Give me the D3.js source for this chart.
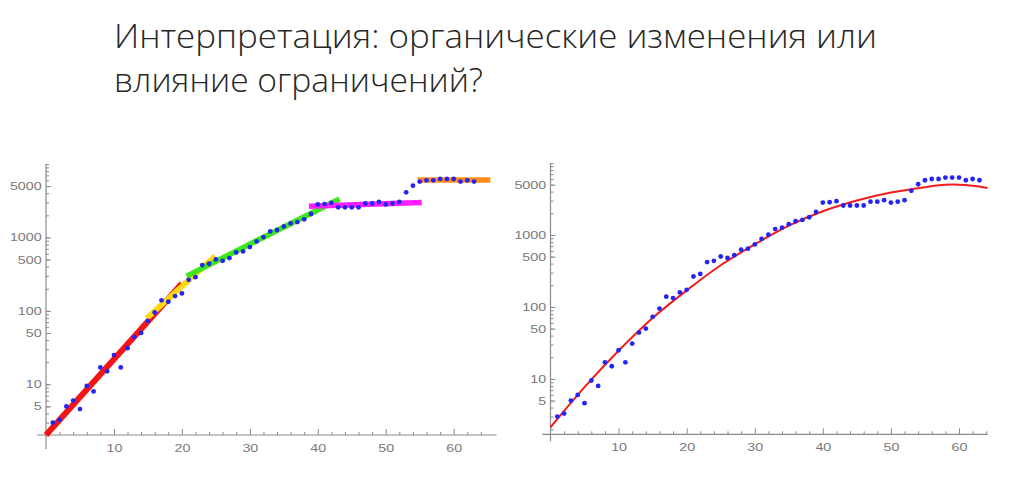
<!DOCTYPE html>
<html>
<head>
<meta charset="utf-8">
<script src="https://cdn.jsdelivr.net/npm/d3@7"></script>
<style>
  html, body { margin: 0; padding: 0; background: #fff; }
  svg { display: block; }
</style>
</head>
<body>
<svg id="chart" width="1024" height="494"></svg>
<script>
// ---------- data ----------
const titleLines = ["Интерпретация: органические изменения или", "влияние ограничений?"];

const days = d3.range(1, 64);
const cases = [3, 3.3, 5, 6, 4.6, 9.5, 8, 17, 15, 25,
               17, 31, 44, 50, 73, 95, 139, 133, 159, 173,
               265, 288, 420, 438, 502, 480, 523, 625, 645, 738,
               883, 1010, 1207, 1262, 1412, 1552, 1620, 1762, 2085, 2818,
               2850, 2950, 2567, 2567, 2567, 2567, 2900, 2900, 3040, 2818,
               2900, 3040, 4110, 5070, 5760, 5990, 5990, 6265, 6265, 6265,
               5760, 5990, 5760];

// piecewise fitted segments (left panel): start/end [day, value]
const segStartDay = [0, 14.8, 20.7, 38.7, 54.7];
const segStartVal = [2.04, 79, 297, 2650, 6070];
const segEndDay   = [20, 24.9, 43.2, 55.3, 65.4];
const segEndVal   = [236, 557, 3340, 3000, 6070];
const segColors   = ["#f41414", "#ffd90f", "#3fe61a", "#ff1fff", "#ff8c1a"];

// single fitted curve (right panel)
const fitDays = [0, 5, 10, 15, 20, 25, 30, 35, 40, 45, 50, 55, 58, 61, 64.2];
const fitVals = [2.13, 7.7, 24.6, 70, 170, 380, 740, 1350, 2140, 3020, 3890, 4620, 5000, 4950, 4510];

const xMajorTicks = [10, 20, 30, 40, 50, 60];
const xMinorTicks = d3.range(2, 66, 2).filter(d => d % 10 !== 0);
const yLabelTicks = [5, 10, 50, 100, 500, 1000, 5000];
const yMinorTicks = [];
[1, 10, 100, 1000].forEach(p => d3.range(1, 10).forEach(m => yMinorTicks.push(m * p)));
yMinorTicks.push(10000);

// ---------- drawing ----------
const svg = d3.select("#chart");

// title
const title = svg.append("g");
titleLines.forEach((t, i) => {
  title.append("text")
    .attr("x", 114).attr("y", i === 0 ? 48 : 92)
    .attr("font-family", "'Open Sans', 'Noto Sans', sans-serif")
    .attr("font-weight", 300)
    .attr("font-size", 33)
    .attr("fill", "#262626")
    .attr("textLength", i === 0 ? 763 : 369)
    .attr("lengthAdjust", "spacingAndGlyphs")
    .text(t);
});

function panel(cfg) {
  const x = d3.scaleLinear().domain(cfg.xDomain).range(cfg.xRange);
  const y = d3.scaleLog().domain(cfg.yDomain).range(cfg.yRange);
  const g = svg.append("g");
  const axisColor = "#8a8a8a";
  const x0 = x(0), yb = cfg.yRange[0];

  // axis lines
  g.append("line").attr("x1", x(cfg.xAxisStart)).attr("x2", cfg.xRange[1])
    .attr("y1", yb).attr("y2", yb).attr("stroke", axisColor).attr("stroke-width", 1.2);
  g.append("line").attr("x1", x0).attr("x2", x0)
    .attr("y1", cfg.yRange[1]).attr("y2", yb + cfg.yOver).attr("stroke", axisColor).attr("stroke-width", 1.2);

  // x axis ticks
  const xMinor = d3.axisBottom(x).tickValues(xMinorTicks.filter(d => d <= cfg.xDomain[1]))
    .tickSizeInner(-3).tickSizeOuter(0).tickFormat("");
  const xMajor = d3.axisBottom(x).tickValues(xMajorTicks).tickSizeInner(-6)
    .tickSizeOuter(0).tickPadding(9).tickFormat(d3.format("d"));
  [xMinor, xMajor].forEach(ax => {
    const a = g.append("g").attr("transform", `translate(0,${yb})`).call(ax);
    a.select(".domain").remove();
    a.selectAll("line").attr("stroke", axisColor);
  });

  // y axis ticks
  const yMin = d3.axisLeft(y).tickValues(yMinorTicks.filter(d => d >= cfg.yDomain[0] && d <= cfg.yDomain[1]))
    .tickSizeInner(-3).tickSizeOuter(0).tickFormat("");
  const yMaj = d3.axisLeft(y).tickValues(yLabelTicks).tickSizeInner(-5)
    .tickSizeOuter(0).tickPadding(3.3).tickFormat(d3.format("d"));
  [yMin, yMaj].forEach(ax => {
    const a = g.append("g").attr("transform", `translate(${x0},0)`).call(ax);
    a.select(".domain").remove();
    a.selectAll("line").attr("stroke", axisColor);
  });

  g.selectAll(".tick text")
    .attr("font-family", "'Liberation Sans', Arial, sans-serif")
    .attr("font-size", 11)
    .attr("fill", "#7a7a7a")
    .attr("transform", "scale(1.3,1)");

  return { g, x, y };
}

// left panel
const L = panel({
  xDomain: [0, 66.3], xRange: [46, 496.5], xAxisStart: -1.3,
  yDomain: [2.04, 10000], yRange: [435, 164], yOver: 14
});
segStartDay.forEach((d, i) => {
  L.g.append("line")
    .attr("x1", L.x(d)).attr("y1", L.y(segStartVal[i]))
    .attr("x2", L.x(segEndDay[i])).attr("y2", L.y(segEndVal[i]))
    .attr("stroke", segColors[i]).attr("stroke-width", i === 0 ? 6 : 5.5)
    .attr("stroke-linecap", "butt");
});
L.g.selectAll("circle.pt").data(days).enter().append("circle")
  .attr("cx", d => L.x(d)).attr("cy", (d, i) => L.y(cases[i]))
  .attr("r", 2.4).attr("fill", "#2424f5");

// right panel
const R = panel({
  xDomain: [0, 64.2], xRange: [550.5, 987.6], xAxisStart: -1.2,
  yDomain: [1.70, 10000], yRange: [434.3, 163], yOver: 7
});
const fitLine = d3.line()
  .x((d, i) => R.x(d)).y((d, i) => R.y(fitVals[i]))
  .curve(d3.curveCatmullRom);
R.g.append("path").datum(fitDays).attr("d", fitLine)
  .attr("fill", "none").attr("stroke", "#f21c1c").attr("stroke-width", 2);
R.g.selectAll("circle.pt").data(days).enter().append("circle")
  .attr("cx", d => R.x(d)).attr("cy", (d, i) => R.y(cases[i]))
  .attr("r", 2.4).attr("fill", "#2424f5");
</script>
</body>
</html>
